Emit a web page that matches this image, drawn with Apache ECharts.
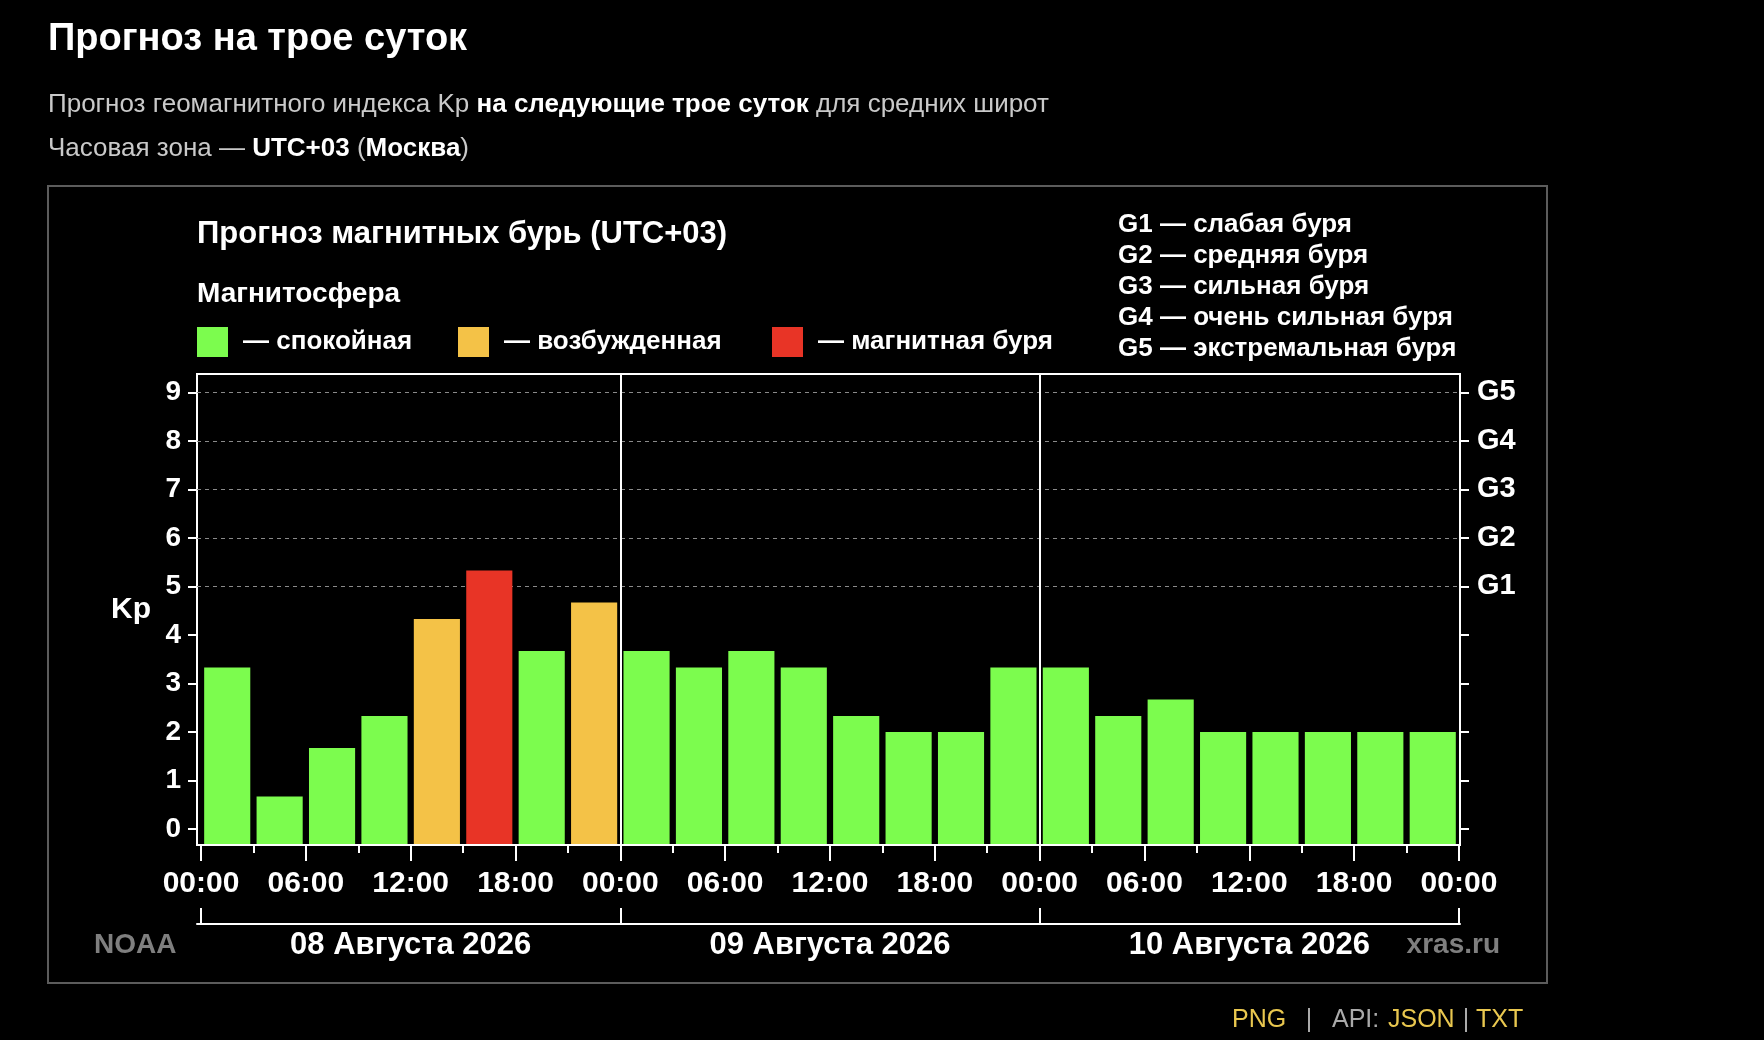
<!DOCTYPE html>
<html>
<head>
<meta charset="utf-8">
<title>Прогноз на трое суток</title>
<script src="https://cdn.jsdelivr.net/npm/echarts@6/dist/echarts.min.js"></script>
<style>
	html, body { margin: 0; padding: 0; background: #000; }
	#main { width: 1764px; height: 1040px; }
</style>
</head>
<body>
<div id="main"></div>
<script>
// прогноз индекса Kp по трёхчасовым интервалам (UTC+03)
var days = ['08 Августа 2026', '09 Августа 2026', '10 Августа 2026'];
var periodStart = [0, 3, 6, 9, 12, 15, 18, 21,
	24, 27, 30, 33, 36, 39, 42, 45,
	48, 51, 54, 57, 60, 63, 66, 69];
var kp = [3.33, 0.67, 1.67, 2.33, 4.33, 5.33, 3.67, 4.67,
	3.67, 3.33, 3.67, 3.33, 2.33, 2.00, 2.00, 3.33,
	3.33, 2.33, 2.67, 2.00, 2.00, 2.00, 2.00, 2.00];
var kpTicks = [0, 1, 2, 3, 4, 5, 6, 7, 8, 9];
var stormKp = [5, 6, 7, 8, 9];
var stormLevels = ['G1', 'G2', 'G3', 'G4', 'G5'];
var stormNames = ['слабая буря', 'средняя буря', 'сильная буря', 'очень сильная буря', 'экстремальная буря'];
var hourTicks = [0, 3, 6, 9, 12, 15, 18, 21, 24, 27, 30, 33, 36, 39, 42, 45, 48, 51, 54, 57, 60, 63, 66, 69, 72];
var hourLabels = [0, 6, 12, 18, 24, 30, 36, 42, 48, 54, 60, 66, 72];
var dayBounds = [0, 24, 48, 72];
var dayMiddles = [12, 36, 60];
var stateNames = ['спокойная', 'возбужденная', 'магнитная буря'];

var FONT = '"Liberation Sans", Arial, sans-serif';
var GREEN = '#7cfc4e', ORANGE = '#f4c247', RED = '#e83426';
var Y_MIN = -0.33, Y_MAX = 9.38;
var X_MIN = -0.23, X_MAX = 72.06;

function kpColor(v) {
	if (v >= 5) return RED;
	if (v >= 4) return ORANGE;
	return GREEN;
}

function renderBar(params, api) {
	var start = api.value(0);
	var val = api.value(1);
	var slot = api.size([3, 0])[0];
	var top = api.coord([start, val]);
	var base = api.coord([start, Y_MIN]);
	var w = slot * 0.88;
	return {
		type: 'rect',
		shape: { x: top[0] + (slot - w) / 2, y: top[1], width: w, height: base[1] - top[1] - 1 },
		style: { fill: kpColor(val) }
	};
}

function txt(x, y, text, size, color, weight, align) {
	return {
		type: 'text', x: x, y: y, silent: true,
		style: {
			text: text, fill: color, fontSize: size, fontFamily: FONT,
			fontWeight: weight || 'bold', align: align || 'left', verticalAlign: 'middle'
		}
	};
}

var legendColors = [GREEN, ORANGE, RED];
var legendX = [197, 458, 772];
var graphics = [
	{ type: 'rect', shape: { x: 48, y: 186, width: 1499, height: 797 }, style: { fill: null, stroke: '#5c5c5c', lineWidth: 2 } },
	txt(48, 40, 'Прогноз на трое суток', 38, '#fff'),
	{
		type: 'text', x: 48, y: 105,
		style: {
			text: '{n|Прогноз геомагнитного индекса Kp }{b|на следующие трое суток}{n| для средних широт}',
			verticalAlign: 'middle',
			rich: {
				n: { fontSize: 26, fontFamily: FONT, fill: '#c9c9c9' },
				b: { fontSize: 26, fontFamily: FONT, fill: '#fff', fontWeight: 'bold' }
			}
		}
	},
	{
		type: 'text', x: 48, y: 149,
		style: {
			text: '{n|Часовая зона — }{b|UTC+03}{n| (}{b|Москва}{n|)}',
			verticalAlign: 'middle',
			rich: {
				n: { fontSize: 26, fontFamily: FONT, fill: '#c9c9c9' },
				b: { fontSize: 26, fontFamily: FONT, fill: '#fff', fontWeight: 'bold' }
			}
		}
	},
	txt(197, 234, 'Прогноз магнитных бурь (UTC+03)', 31, '#fff'),
	txt(197, 294, 'Магнитосфера', 28, '#fff'),
	txt(94, 945, 'NOAA', 28, '#7f7f7f'),
	txt(1500, 945, 'xras.ru', 28, '#7f7f7f', 'bold', 'right'),
	txt(1232, 1020, 'PNG', 25, '#e9c74f', 'normal'),
	txt(1309, 1020, '|', 25, '#aaaaaa', 'normal', 'center'),
	txt(1332, 1020, 'API:', 25, '#aaaaaa', 'normal'),
	txt(1388, 1020, 'JSON', 25, '#e9c74f', 'normal'),
	txt(1466, 1020, '|', 25, '#aaaaaa', 'normal', 'center'),
	txt(1476, 1020, 'TXT', 25, '#e9c74f', 'normal')
];
legendColors.forEach(function (c, i) {
	graphics.push({ type: 'rect', shape: { x: legendX[i], y: 327, width: 31, height: 30 }, style: { fill: c } });
	graphics.push(txt(legendX[i] + 46, 342, '— ' + stateNames[i], 26, '#fff'));
});
stormLevels.forEach(function (g, i) {
	graphics.push(txt(1118, 225 + i * 31, g + ' — ' + stormNames[i], 26, '#fff'));
});

var chart = echarts.init(document.getElementById('main'));

var hourAxisBase = {
	type: 'value', gridIndex: 0, position: 'bottom', min: X_MIN, max: X_MAX,
	splitLine: { show: false }, axisLine: { show: false, onZero: false }
};

var option = {
	backgroundColor: '#000',
	animation: false,
	grid: {
		left: 197, top: 374, width: 1263, height: 471,
		show: true, borderColor: '#fff', borderWidth: 2,
		outerBoundsMode: 'none'
	},
	xAxis: [
		Object.assign({}, hourAxisBase, {
			axisTick: { show: true, customValues: hourTicks, length: 8, lineStyle: { color: '#fff', width: 2 } },
			axisLabel: { show: false }
		}),
		Object.assign({}, hourAxisBase, {
			axisTick: { show: true, customValues: hourLabels, length: 16, lineStyle: { color: '#fff', width: 2 } },
			axisLabel: {
				customValues: hourLabels, margin: 24,
				color: '#fff', fontSize: 30, fontWeight: 'bold', fontFamily: FONT,
				formatter: function (v) {
					var h = v % 24;
					return (h < 10 ? '0' + h : h) + ':00';
				}
			}
		}),
		Object.assign({}, hourAxisBase, {
			offset: 79,
			axisLine: { show: true, onZero: false, lineStyle: { color: '#fff', width: 2 } },
			axisTick: { show: true, inside: true, customValues: dayBounds, length: 16, lineStyle: { color: '#fff', width: 2 } },
			axisLabel: {
				customValues: dayMiddles, margin: 6,
				color: '#fff', fontSize: 31, fontWeight: 'bold', fontFamily: FONT,
				formatter: function (v) { return days[dayMiddles.indexOf(v)]; }
			}
		})
	],
	yAxis: [
		{
			type: 'value', position: 'left', min: Y_MIN, max: Y_MAX,
			name: 'Kp', nameLocation: 'middle', nameRotate: 0, nameGap: 46,
			nameTextStyle: { color: '#fff', fontSize: 30, fontWeight: 'bold', fontFamily: FONT, padding: [6, 0, 0, 0] },
			splitLine: { show: false }, axisLine: { show: false, onZero: false },
			axisTick: { show: true, customValues: kpTicks, length: 9, lineStyle: { color: '#fff', width: 2 } },
			axisLabel: {
				customValues: kpTicks, margin: 16, padding: [4, 0, 0, 0],
				color: '#fff', fontSize: 28, fontWeight: 'bold', fontFamily: FONT
			}
		},
		{
			type: 'value', position: 'right', min: Y_MIN, max: Y_MAX,
			splitLine: { show: false }, axisLine: { show: false, onZero: false },
			axisTick: { show: true, customValues: kpTicks, length: 9, lineStyle: { color: '#fff', width: 2 } },
			axisLabel: {
				customValues: stormKp, margin: 17, padding: [4, 0, 0, 0],
				color: '#fff', fontSize: 29, fontWeight: 'bold', fontFamily: FONT,
				formatter: function (v) { return stormLevels[stormKp.indexOf(v)]; }
			}
		}
	],
	series: [
		{
			type: 'line', xAxisIndex: 0, yAxisIndex: 0, data: [], silent: true,
			markLine: {
				silent: true, symbol: 'none', label: { show: false },
				lineStyle: { color: '#8a8a8a', type: [4, 4], width: 1 },
				data: stormKp.map(function (v) { return { yAxis: v }; }).concat(
					[24, 48].map(function (h) {
						return { xAxis: h, lineStyle: { color: '#fff', type: 'solid', width: 2 } };
					})
				)
			}
		},
		{
			type: 'custom', xAxisIndex: 0, yAxisIndex: 0, z: 5,
			renderItem: renderBar,
			data: periodStart.map(function (h, i) { return [h, kp[i]]; })
		}
	],
	graphic: graphics
};

chart.setOption(option);
</script>
</body>
</html>
